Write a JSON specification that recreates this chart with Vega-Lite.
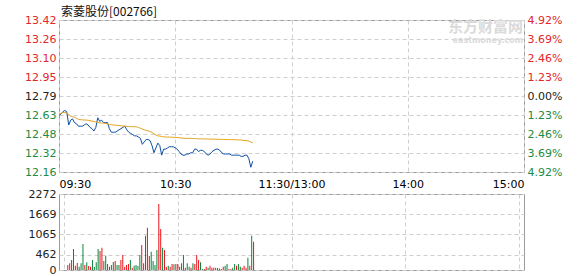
{
  "$schema": "https://vega.github.io/schema/vega-lite/v6.json",
  "background": "white",
  "padding": {"left": 0, "right": 0, "top": 5, "bottom": 0},
  "spacing": 22,
  "bounds": "flush",
  "config": {
    "view": {"stroke": "#9a9a9a", "strokeWidth": 1},
    "axis": {
      "labelFont": "DejaVu Sans",
      "labelFontSize": 11,
      "labelColor": "#222222",
      "domain": false,
      "ticks": false,
      "tickSize": 0,
      "gridColor": "#cfcfcf",
      "gridDash": [4, 3],
      "gridWidth": 1,
      "title": null
    }
  },
  "datasets": {
    "minutes": [
      {"t": 0, "price": 12.63, "avg": 12.641, "vol": null, "dir": "up"},
      {"t": 1, "price": 12.64, "avg": 12.645, "vol": null, "dir": "up"},
      {"t": 2, "price": 12.66, "avg": 12.653, "vol": 150, "dir": "up"},
      {"t": 3, "price": 12.67, "avg": 12.653, "vol": 200, "dir": "up"},
      {"t": 4, "price": 12.66, "avg": 12.649, "vol": 299, "dir": "down"},
      {"t": 5, "price": 12.55, "avg": 12.637, "vol": 628, "dir": "down"},
      {"t": 6, "price": 12.59, "avg": 12.624, "vol": 129, "dir": "up"},
      {"t": 7, "price": 12.60, "avg": 12.618, "vol": 209, "dir": "up"},
      {"t": 8, "price": 12.57, "avg": 12.614, "vol": 99, "dir": "down"},
      {"t": 9, "price": 12.56, "avg": 12.606, "vol": 200, "dir": "down"},
      {"t": 10, "price": 12.54, "avg": 12.597, "vol": 777, "dir": "down"},
      {"t": 11, "price": 12.54, "avg": 12.594, "vol": 150, "dir": "up"},
      {"t": 12, "price": 12.54, "avg": 12.593, "vol": 230, "dir": "down"},
      {"t": 13, "price": 12.55, "avg": 12.591, "vol": 120, "dir": "up"},
      {"t": 14, "price": 12.56, "avg": 12.591, "vol": 99, "dir": "up"},
      {"t": 15, "price": 12.55, "avg": 12.589, "vol": 299, "dir": "down"},
      {"t": 16, "price": 12.53, "avg": 12.585, "vol": 90, "dir": "down"},
      {"t": 17, "price": 12.52, "avg": 12.583, "vol": 230, "dir": "down"},
      {"t": 18, "price": 12.50, "avg": 12.579, "vol": 628, "dir": "down"},
      {"t": 19, "price": 12.53, "avg": 12.575, "vol": 568, "dir": "up"},
      {"t": 20, "price": 12.61, "avg": 12.571, "vol": 667, "dir": "up"},
      {"t": 21, "price": 12.58, "avg": 12.568, "vol": 269, "dir": "down"},
      {"t": 22, "price": 12.59, "avg": 12.566, "vol": 428, "dir": "down"},
      {"t": 23, "price": 12.57, "avg": 12.565, "vol": 179, "dir": "up"},
      {"t": 24, "price": 12.57, "avg": 12.563, "vol": 99, "dir": "up"},
      {"t": 25, "price": 12.57, "avg": 12.560, "vol": 150, "dir": "down"},
      {"t": 26, "price": 12.52, "avg": 12.553, "vol": 239, "dir": "down"},
      {"t": 27, "price": 12.49, "avg": 12.552, "vol": 269, "dir": "up"},
      {"t": 28, "price": 12.49, "avg": 12.550, "vol": 150, "dir": "down"},
      {"t": 29, "price": 12.49, "avg": 12.548, "vol": 150, "dir": "down"},
      {"t": 30, "price": 12.50, "avg": 12.547, "vol": 299, "dir": "up"},
      {"t": 31, "price": 12.51, "avg": 12.545, "vol": 449, "dir": "up"},
      {"t": 32, "price": 12.52, "avg": 12.543, "vol": 99, "dir": "up"},
      {"t": 33, "price": 12.53, "avg": 12.542, "vol": 150, "dir": "up"},
      {"t": 34, "price": 12.54, "avg": 12.541, "vol": 179, "dir": "up"},
      {"t": 35, "price": 12.51, "avg": 12.538, "vol": 299, "dir": "down"},
      {"t": 36, "price": 12.49, "avg": 12.537, "vol": 69, "dir": "up"},
      {"t": 37, "price": 12.48, "avg": 12.536, "vol": 129, "dir": "down"},
      {"t": 38, "price": 12.47, "avg": 12.536, "vol": 150, "dir": "down"},
      {"t": 39, "price": 12.46, "avg": 12.536, "vol": 120, "dir": "down"},
      {"t": 40, "price": 12.46, "avg": 12.535, "vol": 449, "dir": "down"},
      {"t": 41, "price": 12.45, "avg": 12.529, "vol": 748, "dir": "up"},
      {"t": 42, "price": 12.44, "avg": 12.523, "vol": 200, "dir": "up"},
      {"t": 43, "price": 12.39, "avg": 12.517, "vol": 1026, "dir": "down"},
      {"t": 44, "price": 12.41, "avg": 12.510, "vol": 1265, "dir": "up"},
      {"t": 45, "price": 12.43, "avg": 12.506, "vol": 419, "dir": "up"},
      {"t": 46, "price": 12.43, "avg": 12.502, "vol": 547, "dir": "down"},
      {"t": 47, "price": 12.42, "avg": 12.496, "vol": 269, "dir": "down"},
      {"t": 48, "price": 12.38, "avg": 12.488, "vol": 150, "dir": "down"},
      {"t": 49, "price": 12.32, "avg": 12.477, "vol": 598, "dir": "down"},
      {"t": 50, "price": 12.36, "avg": 12.467, "vol": 1973, "dir": "up"},
      {"t": 51, "price": 12.40, "avg": 12.460, "vol": 1226, "dir": "up"},
      {"t": 52, "price": 12.38, "avg": 12.458, "vol": 667, "dir": "down"},
      {"t": 53, "price": 12.30, "avg": 12.455, "vol": 598, "dir": "up"},
      {"t": 54, "price": 12.35, "avg": 12.452, "vol": 90, "dir": "up"},
      {"t": 55, "price": 12.35, "avg": 12.450, "vol": 129, "dir": "down"},
      {"t": 56, "price": 12.36, "avg": 12.450, "vol": 99, "dir": "up"},
      {"t": 57, "price": 12.37, "avg": 12.450, "vol": 179, "dir": "up"},
      {"t": 58, "price": 12.37, "avg": 12.449, "vol": 170, "dir": "down"},
      {"t": 59, "price": 12.37, "avg": 12.448, "vol": 179, "dir": "up"},
      {"t": 60, "price": 12.36, "avg": 12.447, "vol": 179, "dir": "up"},
      {"t": 61, "price": 12.35, "avg": 12.446, "vol": 99, "dir": "down"},
      {"t": 62, "price": 12.33, "avg": 12.445, "vol": 200, "dir": "down"},
      {"t": 63, "price": 12.31, "avg": 12.442, "vol": 449, "dir": "down"},
      {"t": 64, "price": 12.30, "avg": 12.441, "vol": 69, "dir": "up"},
      {"t": 65, "price": 12.30, "avg": 12.440, "vol": 200, "dir": "down"},
      {"t": 66, "price": 12.31, "avg": 12.439, "vol": 99, "dir": "down"},
      {"t": 67, "price": 12.31, "avg": 12.439, "vol": 69, "dir": "up"},
      {"t": 68, "price": 12.32, "avg": 12.439, "vol": 200, "dir": "down"},
      {"t": 69, "price": 12.32, "avg": 12.438, "vol": 179, "dir": "up"},
      {"t": 70, "price": 12.35, "avg": 12.438, "vol": 449, "dir": "up"},
      {"t": 71, "price": 12.35, "avg": 12.436, "vol": 299, "dir": "up"},
      {"t": 72, "price": 12.33, "avg": 12.436, "vol": 230, "dir": "down"},
      {"t": 73, "price": 12.34, "avg": 12.435, "vol": 30, "dir": "down"},
      {"t": 74, "price": 12.34, "avg": 12.435, "vol": 30, "dir": "up"},
      {"t": 75, "price": 12.33, "avg": 12.435, "vol": 99, "dir": "up"},
      {"t": 76, "price": 12.31, "avg": 12.434, "vol": 69, "dir": "down"},
      {"t": 77, "price": 12.30, "avg": 12.434, "vol": 129, "dir": "up"},
      {"t": 78, "price": 12.31, "avg": 12.433, "vol": 69, "dir": "up"},
      {"t": 79, "price": 12.33, "avg": 12.433, "vol": 69, "dir": "up"},
      {"t": 80, "price": 12.34, "avg": 12.432, "vol": 69, "dir": "down"},
      {"t": 81, "price": 12.35, "avg": 12.432, "vol": 60, "dir": "down"},
      {"t": 82, "price": 12.35, "avg": 12.432, "vol": 45, "dir": "down"},
      {"t": 83, "price": 12.34, "avg": 12.431, "vol": 30, "dir": "up"},
      {"t": 84, "price": 12.32, "avg": 12.431, "vol": 99, "dir": "up"},
      {"t": 85, "price": 12.31, "avg": 12.430, "vol": 129, "dir": "down"},
      {"t": 86, "price": 12.31, "avg": 12.430, "vol": 179, "dir": "down"},
      {"t": 87, "price": 12.31, "avg": 12.430, "vol": 30, "dir": "up"},
      {"t": 88, "price": 12.31, "avg": 12.429, "vol": 30, "dir": "up"},
      {"t": 89, "price": 12.30, "avg": 12.429, "vol": 69, "dir": "down"},
      {"t": 90, "price": 12.30, "avg": 12.428, "vol": 179, "dir": "down"},
      {"t": 91, "price": 12.30, "avg": 12.428, "vol": 129, "dir": "up"},
      {"t": 92, "price": 12.30, "avg": 12.427, "vol": 179, "dir": "down"},
      {"t": 93, "price": 12.30, "avg": 12.426, "vol": 99, "dir": "down"},
      {"t": 94, "price": 12.29, "avg": 12.425, "vol": 69, "dir": "up"},
      {"t": 95, "price": 12.29, "avg": 12.423, "vol": 129, "dir": "up"},
      {"t": 96, "price": 12.30, "avg": 12.421, "vol": 69, "dir": "up"},
      {"t": 97, "price": 12.30, "avg": 12.420, "vol": 368, "dir": "down"},
      {"t": 98, "price": 12.27, "avg": 12.416, "vol": 129, "dir": "up"},
      {"t": 99, "price": 12.20, "avg": 12.409, "vol": 1026, "dir": "down"},
      {"t": 100, "price": 12.25, "avg": 12.402, "vol": 846, "dir": "up"}
    ]
  },
  "vconcat": [
    {
      "width": 465,
      "height": 152,
      "title": {
        "text": "索菱股份[002766]",
        "anchor": "start",
        "frame": "group",
        "font": "Noto Sans CJK SC",
        "fontSize": 12,
        "fontWeight": "normal",
        "color": "#111111",
        "offset": -5,
        "dx": 2
      },
      "data": {"name": "minutes"},
      "layer": [
        {
          "mark": {"type": "line", "color": "#0b4fa6", "strokeWidth": 1},
          "encoding": {
            "x": {
              "field": "t",
              "type": "quantitative",
              "scale": {"domain": [0, 240], "nice": false, "zero": false},
              "axis": {
                "values": [0, 60, 120, 180, 240],
                "labelExpr": "datum.value == 0 ? '09:30' : datum.value == 60 ? '10:30' : datum.value == 120 ? '11:30/13:00' : datum.value == 180 ? '14:00' : '15:00'",
                "labelFlush": true,
                "labelPadding": 6,
                "labelColor": "#000000",
                "grid": true,
                "minExtent": 22,
                "maxExtent": 22
              }
            },
            "y": {
              "field": "price",
              "type": "quantitative",
              "scale": {"domain": [12.160732, 13.419268], "nice": false, "zero": false},
              "axis": {
                "orient": "left",
                "values": [12.160732, 12.318049, 12.475366, 12.632683, 12.79, 12.947317, 13.104634, 13.261951, 13.419268],
                "format": ".2f",
                "labelPadding": 3,
                "grid": true,
                "minExtent": 58,
                "maxExtent": 58,
                "labelColor": {
                  "condition": [
                    {"test": "datum.value > 12.8", "value": "#e3262c"},
                    {"test": "datum.value < 12.78", "value": "#1d8a45"}
                  ],
                  "value": "#222222"
                }
              }
            }
          }
        },
        {
          "mark": {"type": "line", "color": "#e3a21e", "strokeWidth": 1},
          "encoding": {
            "x": {"field": "t", "type": "quantitative"},
            "y": {
              "field": "avg",
              "type": "quantitative",
              "axis": {
                "orient": "right",
                "values": [12.160732, 12.318049, 12.475366, 12.632683, 12.79, 12.947317, 13.104634, 13.261951, 13.419268],
                "labelExpr": "format(abs(datum.value - 12.79) / 12.79 * 100, '.2f') + '%'",
                "labelPadding": 3,
                "grid": false,
                "minExtent": 55,
                "maxExtent": 55,
                "labelColor": {
                  "condition": [
                    {"test": "datum.value > 12.8", "value": "#e3262c"},
                    {"test": "datum.value < 12.78", "value": "#1d8a45"}
                  ],
                  "value": "#222222"
                }
              }
            }
          }
        },
        {
          "data": {"values": [{}]},
          "mark": {"type": "text", "align": "right", "baseline": "middle", "font": "Noto Sans CJK SC", "fontSize": 15, "fontWeight": "bold", "color": "#dadada"},
          "encoding": {
            "x": {"datum": 239.5},
            "y": {"datum": 13.36, "axis": null},
            "text": {"value": "东方财富网"}
          }
        },
        {
          "data": {"values": [{}]},
          "mark": {"type": "text", "align": "right", "baseline": "middle", "font": "DejaVu Sans", "fontSize": 8, "fontWeight": "bold", "color": "#dadada"},
          "encoding": {
            "x": {"datum": 239.5},
            "y": {"datum": 13.245, "axis": null},
            "text": {"value": "eastmoney.com"}
          }
        }
      ],
      "resolve": {"axis": {"y": "independent"}}
    },
    {
      "width": 465,
      "height": 76,
      "data": {"name": "minutes"},
      "mark": {"type": "bar", "size": 1},
      "encoding": {
        "x": {
          "field": "t",
          "type": "quantitative",
          "scale": {"domain": [0, 240], "nice": false, "zero": false},
          "axis": {"values": [0, 60, 120, 180, 240], "labels": false, "grid": true, "minExtent": 5, "maxExtent": 5}
        },
        "y": {
          "field": "vol",
          "type": "quantitative",
          "scale": {"domain": [0, 2272], "nice": false},
          "axis": {"values": [0, 462, 1065, 1669, 2272], "format": "d", "labelPadding": 3, "grid": true, "minExtent": 58, "maxExtent": 58}
        },
        "color": {
          "field": "dir",
          "type": "nominal",
          "scale": {"domain": ["up", "down"], "range": ["#e8141b", "#0a843a"]},
          "legend": null
        }
      }
    }
  ]
}
